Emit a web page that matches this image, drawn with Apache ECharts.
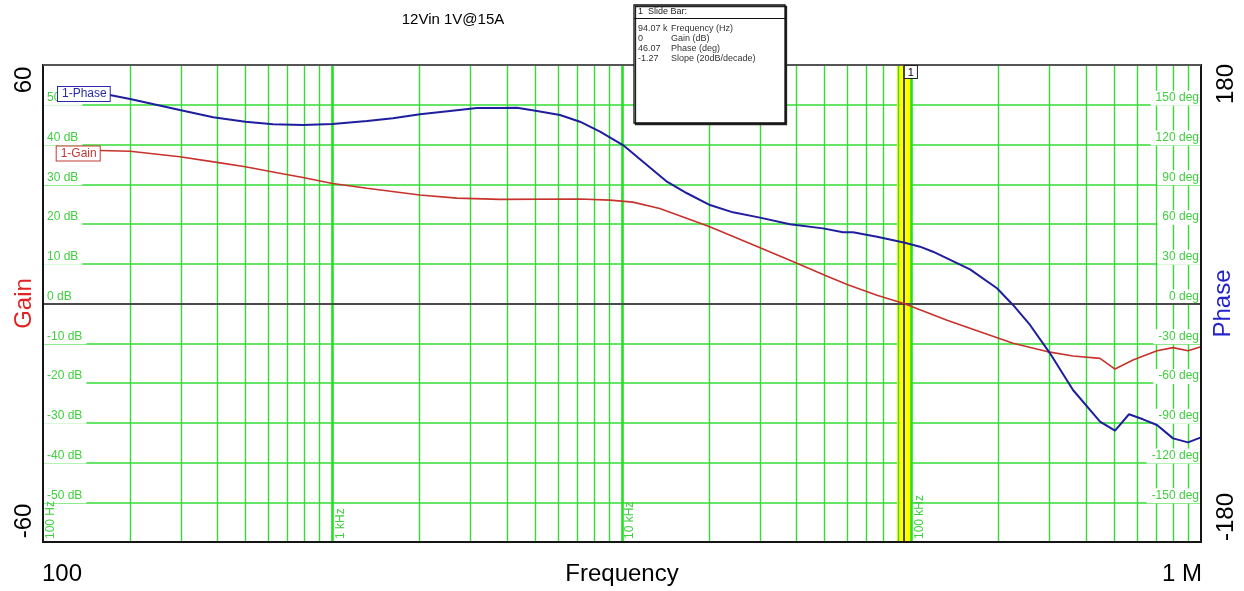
<!DOCTYPE html>
<html>
<head>
<meta charset="utf-8">
<script src="https://cdn.jsdelivr.net/npm/echarts@6/dist/echarts.min.js"></script>
<style>
  html, body { margin: 0; padding: 0; background: #ffffff; }
  #chart { width: 1244px; height: 591px; }
</style>
</head>
<body>
<div id="chart"></div>
<script>
// Loop gain measurement, 12 V in, 1 V @ 15 A
const titleText = '12Vin 1V@15A';

// Gain trace (Hz, dB)
const gainFreq = [157, 200, 297, 399, 500, 643, 791, 1000, 1316, 2000, 2690, 3790, 7160, 9090, 10900,
  13500, 16800, 20100, 30000, 40200, 49500, 59900, 76000, 94070, 132700, 172400, 224200, 293800,
  361300, 447900, 504700, 582300, 704700, 800500, 902000, 1000000];
const gainDb = [38.5, 38.3, 36.9, 35.5, 34.4, 32.9, 31.7, 30.2, 29.0, 27.3, 26.5, 26.2, 26.3, 26.0, 25.5,
  23.9, 21.4, 19.3, 14.0, 10.1, 7.3, 4.8, 2.1, 0, -4.2, -7.1, -10.0, -12.1,
  -13.2, -13.8, -16.5, -14.2, -11.9, -11.1, -11.9, -10.9];

// Phase trace (Hz, deg)
const phaseFreq = [170, 200, 297, 387, 500, 623, 791, 1000, 1316, 1618, 2005, 2546, 3156, 3790, 4339,
  5087, 6107, 7159, 8396, 10080, 11818, 14302, 16770, 20137, 24170, 29970, 38050, 49470, 57990, 62820,
  76020, 94070, 106990, 118670, 159300, 197360, 224200, 256700, 300900, 361300, 447900, 504700,
  564000, 630400, 704700, 800500, 902000, 1000000];
const phaseDeg = [157.4, 154.3, 146.0, 140.5, 137.2, 135.2, 134.7, 135.5, 137.7, 139.8, 142.8, 145.3, 147.5, 147.5, 147.8,
  145.3, 142.3, 137.2, 129.7, 119.6, 107.0, 91.9, 83.2, 74.3, 68.8, 64.8, 59.8, 56.7, 53.7, 53.7,
  50.4, 46.07, 42.9, 39.1, 25.8, 11.5, -1.1, -16.2, -37.6, -65.3, -89.2, -96.0,
  -83.6, -87.4, -91.7, -101.8, -104.8, -101.0];

// Axes and tick labels
const freqMin = 100, freqMax = 1000000;
const gainMin = -60, gainMax = 60, gainStep = 10;
const phaseMin = -180, phaseMax = 180, phaseStep = 30;
const gainTicks = [-50, -40, -30, -20, -10, 0, 10, 20, 30, 40, 50];
const phaseTicks = [-150, -120, -90, -60, -30, 0, 30, 60, 90, 120, 150];
const decadeFreq = [100, 1000, 10000, 100000];
const decadeText = ['100 Hz', '1 kHz', '10 kHz', '100 kHz'];
const minorFreq = [200, 300, 400, 500, 600, 700, 800, 900,
  2000, 3000, 4000, 5000, 6000, 7000, 8000, 9000,
  20000, 30000, 40000, 50000, 60000, 70000, 80000, 90000,
  200000, 300000, 400000, 500000, 600000, 700000, 800000, 900000];
const majorFreq = [1000, 10000, 100000];

// Slide bar readout
const markerFreq = 94070;
const readoutTitle = '1  Slide Bar:';
const readoutValues = ['94.07 k', '0', '46.07', '-1.27'];
const readoutNames = ['Frequency (Hz)', 'Gain (dB)', 'Phase (deg)', 'Slope (20dB/decade)'];

(function () {
const FONT = "'Liberation Sans', Arial, sans-serif";
const GREEN = '#35dc35';
const GREEN_TXT = '#3fcf3f';
const RED = '#c8322c';
const BLUE = '#1e1e9e';

const gainData = gainFreq.map((f, i) => [f, gainDb[i]]);
const phaseData = phaseFreq.map((f, i) => [f, phaseDeg[i]]);

const hidden = { show: false };
const vline = (z, style, data) => ({
  type: 'line', data: [], z: z, silent: true,
  markLine: {
    z: z, silent: true, symbol: ['none', 'none'], label: hidden, animation: false,
    emphasis: { disabled: true }, lineStyle: style, data: data
  }
});

const option = {
  animation: false,
  backgroundColor: '#ffffff',
  grid: { left: 43, right: 43, top: 65, bottom: 49, show: false },
  xAxis: {
    type: 'log', logBase: 10, min: freqMin, max: freqMax,
    axisLine: hidden, axisTick: hidden, axisLabel: hidden, splitLine: hidden
  },
  yAxis: [
    {
      type: 'value', min: gainMin, max: gainMax, interval: gainStep,
      axisLine: hidden, axisTick: hidden, axisLabel: hidden,
      splitLine: { show: true, lineStyle: { color: GREEN, width: 1.5 } }
    },
    {
      type: 'value', min: phaseMin, max: phaseMax, interval: phaseStep,
      axisLine: hidden, axisTick: hidden, axisLabel: hidden, splitLine: hidden
    }
  ],
  series: [
    // slide bar highlight
    vline(1, { color: '#ffff00', width: 14, type: 'solid' }, [{ xAxis: markerFreq }]),
    // minor frequency grid
    vline(2, { color: GREEN, width: 1.4, type: 'solid' }, minorFreq.map(f => ({ xAxis: f }))),
    // decade frequency grid
    vline(2, { color: '#22e022', width: 2.6, type: 'solid' }, majorFreq.map(f => ({ xAxis: f }))),
    // 0 dB / 0 deg reference and slide bar cursor
    vline(6, { type: 'solid' }, [
      { yAxis: 0, lineStyle: { color: '#4a4a4a', width: 2, type: 'solid' } },
      { xAxis: markerFreq, lineStyle: { color: '#111111', width: 1.5, type: 'solid' } }
    ]),
    {
      name: '1-Gain', type: 'line', yAxisIndex: 0, data: gainData, z: 7,
      showSymbol: false, smooth: false,
      lineStyle: { color: RED, width: 1.6 }, itemStyle: { color: RED }
    },
    {
      name: '1-Phase', type: 'line', yAxisIndex: 1, data: phaseData, z: 7,
      showSymbol: false, smooth: false,
      lineStyle: { color: BLUE, width: 2 }, itemStyle: { color: BLUE }
    }
  ]
};

const chart = echarts.init(document.getElementById('chart'), null, { renderer: 'canvas' });
chart.setOption(option);

const xPix = f => chart.convertToPixel({ xAxisIndex: 0 }, f);
const yGain = v => chart.convertToPixel({ yAxisIndex: 0 }, v);
const yPhase = v => chart.convertToPixel({ yAxisIndex: 1 }, v);

const plotL = xPix(freqMin), plotR = xPix(freqMax);
const plotT = yGain(gainMax), plotB = yGain(gainMin);

const g = [];
function text(x, y, str, o) {
  g.push({
    type: 'text', x: x, y: y, rotation: o.rot || 0, z: o.z == null ? 5 : o.z, silent: true,
    style: {
      text: str, fill: o.color || '#000', font: (o.weight || 'normal') + ' ' + o.size + 'px ' + FONT,
      align: o.align || 'center', verticalAlign: o.va || 'middle',
      backgroundColor: o.bg, padding: o.pad, borderColor: o.bc, borderWidth: o.bw
    }
  });
}

// inside gain labels (left) and phase labels (right)
gainTicks.forEach(v => {
  text(plotL + 1, yGain(v) + 1, v + ' dB', { size: 12, color: GREEN_TXT, align: 'left', va: 'bottom', bg: '#ffffff', pad: [1, 4, 2, 3] });
});
phaseTicks.forEach(v => {
  text(plotR - 1, yPhase(v) + 1, v + ' deg', { size: 12, color: GREEN_TXT, align: 'right', va: 'bottom', bg: '#ffffff', pad: [1, 1, 2, 5] });
});

// rotated decade labels
decadeFreq.forEach((f, i) => {
  text(xPix(f) + 8, plotB - 3, decadeText[i], { size: 12, color: GREEN_TXT, align: 'left', va: 'middle', rot: Math.PI / 2 });
});

// plot frame
g.push({ type: 'rect', z: 8, silent: true, shape: { x: plotL, y: plotT, width: plotR - plotL, height: plotB - plotT },
  style: { fill: null, stroke: '#151515', lineWidth: 2 } });
g.push({ type: 'line', z: 8, silent: true, shape: { x1: plotL, y1: plotT, x2: plotR, y2: plotT },
  style: { stroke: '#555555', lineWidth: 2 } });

// outer axis text
const R = Math.PI / 2;
text(plotL - 19, plotT + 15, String(gainMax), { size: 24, rot: R, z: 9 });
text(plotL - 19, plotB - 21, String(gainMin), { size: 24, rot: R, z: 9 });
text(plotL - 19, (plotT + plotB) / 2, 'Gain', { size: 24, rot: R, color: '#e02424', z: 9 });
text(plotR + 25, plotT + 19, String(phaseMax), { size: 24, rot: R, z: 9 });
text(plotR + 25, plotB - 25, String(phaseMin), { size: 24, rot: R, z: 9 });
text(plotR + 22, (plotT + plotB) / 2, 'Phase', { size: 24, rot: R, color: '#2424cc', z: 9 });
text(plotL + 19, plotB + 32, '100', { size: 24, z: 9 });
text(plotR + 1, plotB + 32, '1 M', { size: 24, align: 'right', z: 9 });
text((plotL + plotR) / 2, plotB + 32, 'Frequency', { size: 24, z: 9 });
text(453, 20, titleText, { size: 15, z: 9 });

// trace name tags at the start of each trace
const pStart = chart.convertToPixel({ seriesIndex: 5 }, phaseData[0]);
const gStart = chart.convertToPixel({ seriesIndex: 4 }, gainData[0]);
text(pStart[0], pStart[1] - 1, '1-Phase', { size: 12, color: '#2a2aa8', align: 'right', bg: '#ffffff', pad: [1, 3, 1, 4], bc: '#2a2aa8', bw: 1, z: 9 });
text(gStart[0], gStart[1] + 3, '1-Gain', { size: 12, color: '#c43a34', align: 'right', bg: '#ffffff', pad: [1, 3, 1, 4], bc: '#c43a34', bw: 1, z: 9 });

// cursor number tag
const mx = xPix(markerFreq);
text(mx + 1, plotT + 1, '1', { size: 11, align: 'left', va: 'top', bg: '#ffffff', pad: [1, 3, 0, 3], bc: '#222', bw: 1, z: 9 });

// slide bar readout box
const bx = 634, by = 5, bw = 151, bh = 118;
g.push({ type: 'rect', z: 10, silent: true, shape: { x: bx, y: by, width: bw, height: bh },
  style: { fill: '#ffffff', stroke: '#111111', lineWidth: 1.3, shadowColor: '#222', shadowOffsetX: 1.5, shadowOffsetY: 1.5, shadowBlur: 0 } });
g.push({ type: 'line', z: 11, silent: true, shape: { x1: bx, y1: by + 13.5, x2: bx + bw, y2: by + 13.5 },
  style: { stroke: '#111111', lineWidth: 1 } });
text(bx + 4, by + 7, readoutTitle, { size: 9, align: 'left', color: '#222', z: 11 });
readoutValues.forEach((v, i) => {
  text(bx + 4, by + 24 + i * 10, v, { size: 9, align: 'left', color: '#333', z: 11 });
  text(bx + 37, by + 24 + i * 10, readoutNames[i], { size: 9, align: 'left', color: '#333', z: 11 });
});

chart.setOption({ graphic: { elements: g } });
})();
</script>
</body>
</html>
